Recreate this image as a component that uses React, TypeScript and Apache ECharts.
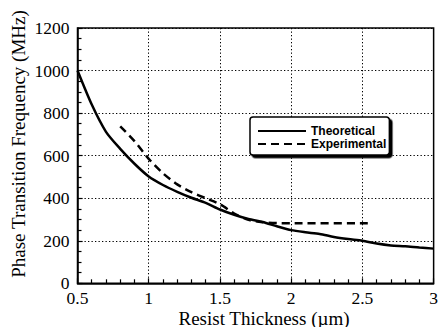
import React, { useEffect, useRef } from "react";
import * as echarts from "echarts";

// Resist thickness (µm) vs. phase transition frequency (MHz)
const theoryThickness = [0.5, 0.6, 0.7, 0.8, 0.9, 1.0, 1.1, 1.2, 1.3, 1.4, 1.5, 1.6, 1.7, 1.8, 1.9, 2.0, 2.1, 2.2, 2.3, 2.4, 2.5, 2.6, 2.7, 2.8, 2.9, 3.0];
const theoryFreq = [1000, 840, 712, 632, 562, 502, 462, 430, 402, 378, 347, 322, 302, 288, 268, 250, 240, 232, 218, 208, 200, 187, 178, 174, 168, 163];

const exptThickness = [0.8, 0.9, 1.0, 1.1, 1.2, 1.3, 1.4, 1.5, 1.6, 1.7, 1.8, 1.9, 2.0, 2.56];
const exptFreq = [738, 668, 585, 517, 465, 428, 400, 372, 328, 298, 287, 283, 282, 282];

const xTicks = { min: 0.5, max: 3, interval: 0.5 };
const yTicks = { min: 0, max: 1200, interval: 200 };

const xTitle = "Resist Thickness (µm)";
const yTitle = "Phase Transition Frequency (MHz)";

const zip = (xs: number[], ys: number[]) => xs.map((x, i) => [x, ys[i]]);

export default function App() {
  const ref = useRef<HTMLDivElement>(null);

  useEffect(() => {
    if (!ref.current) return;
    const chart = echarts.init(ref.current, undefined, { renderer: "svg" });
    const serif = "Liberation Serif";
    const sans = "Liberation Sans";
    const ink = "#000";

    const gridLine = { show: true, lineStyle: { color: ink, width: 1, type: [1.3, 2.2] as number[] } };
    const tickRich = { t: { color: ink, fontFamily: serif, fontSize: 17.5, fontWeight: "normal" as const } };

    chart.setOption({
      animation: false,
      backgroundColor: "#fff",
      textStyle: { fontFamily: serif, color: ink },
      grid: {
        left: 77.5,
        right: 7,
        top: 28,
        bottom: 43.7,
        show: true,
        borderColor: ink,
        borderWidth: 1.5,
        containLabel: false,
      },
      legend: {
        orient: "vertical",
        left: 250,
        top: 117,
        padding: [8, 3, 5, 7],
        itemGap: 1,
        itemWidth: 48,
        itemHeight: 14,
        backgroundColor: "#fff",
        borderColor: ink,
        borderWidth: 1.5,
        borderRadius: 3,
        shadowColor: ink,
        shadowBlur: 0,
        shadowOffsetX: 2.5,
        shadowOffsetY: 2.5,
        itemStyle: { opacity: 0 },
        textStyle: { fontFamily: sans, fontWeight: "bold", fontSize: 12, color: ink },
        data: ["Theoretical", "Experimental"],
      },
      xAxis: {
        type: "value",
        min: xTicks.min,
        max: xTicks.max,
        interval: xTicks.interval,
        axisLine: { show: true, onZero: false, lineStyle: { color: ink, width: 1.5 } },
        axisTick: { show: true, inside: true, length: 5, lineStyle: { color: ink, width: 1.2 } },
        minorTick: { show: true, splitNumber: 5, length: 4, lineStyle: { color: ink, width: 1.2 } },
        splitLine: gridLine,
        axisLabel: {
          color: ink,
          fontFamily: serif,
          fontSize: 17.5,
          margin: 6,
          rich: tickRich,
          formatter: (v: number) => `{t|${v}}`,
        },
      },
      yAxis: {
        type: "value",
        min: yTicks.min,
        max: yTicks.max,
        interval: yTicks.interval,
        axisLine: { show: true, onZero: false, lineStyle: { color: ink, width: 1.5 } },
        axisTick: { show: true, inside: true, length: 5, lineStyle: { color: ink, width: 1.2 } },
        minorTick: { show: true, splitNumber: 4, length: 4, lineStyle: { color: ink, width: 1.2 } },
        splitLine: gridLine,
        axisLabel: {
          color: ink,
          fontFamily: serif,
          fontSize: 17.5,
          margin: 8,
          rich: tickRich,
          formatter: (v: number) => `{t|${v}}`,
        },
      },
      graphic: [
        {
          type: "text",
          x: 264,
          y: 318,
          style: {
            text: xTitle,
            fill: ink,
            fontFamily: serif,
            fontSize: 19,
            textAlign: "center",
            textVerticalAlign: "middle",
          },
        },
        {
          type: "text",
          x: 18.5,
          y: 144,
          rotation: Math.PI / 2,
          style: {
            text: yTitle,
            fill: ink,
            fontFamily: serif,
            fontSize: 19,
            textAlign: "center",
            textVerticalAlign: "middle",
          },
        },
      ],
      series: [
        {
          name: "Theoretical",
          type: "line",
          data: zip(theoryThickness, theoryFreq),
          showSymbol: false,
          symbol: "none",
          smooth: 0.25,
          lineStyle: { color: ink, width: 2.5, type: "solid" },
          itemStyle: { color: ink },
          z: 3,
        },
        {
          name: "Experimental",
          type: "line",
          data: zip(exptThickness, exptFreq),
          showSymbol: false,
          symbol: "none",
          smooth: 0.25,
          lineStyle: { color: ink, width: 2.5, type: [8, 5] },
          itemStyle: { color: ink },
          z: 3,
        },
      ],
    });

    return () => chart.dispose();
  }, []);

  return (
    <div
      ref={ref}
      style={{ position: "fixed", left: 0, top: 0, width: 441, height: 327, background: "#fff" }}
    />
  );
}
